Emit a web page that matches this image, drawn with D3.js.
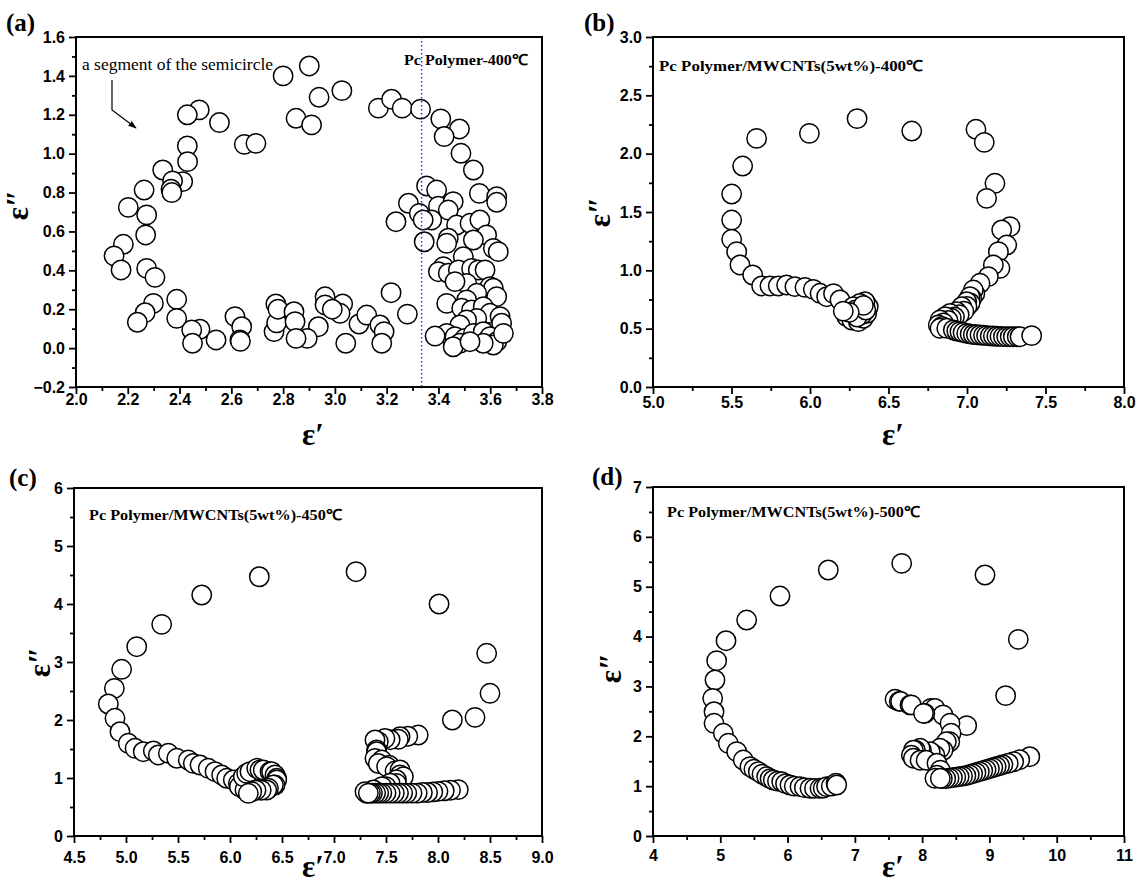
<!DOCTYPE html>
<html><head><meta charset="utf-8">
<script src="https://cdn.jsdelivr.net/npm/d3@7"></script>
<style>body{margin:0;background:#fff}svg{display:block}</style>
</head><body>
<svg id="chart" width="1137" height="883"></svg>
<script>
// ---------------- DATA (ε′, ε″) ----------------
const aPoints = [
[2.80,1.40],[2.476,1.225],[2.43,1.20],[2.554,1.16],[2.65,1.048],[2.695,1.053],[2.43,1.04],[2.431,0.959],[2.412,0.856],[2.335,0.916],[2.373,0.86],[2.367,0.817],[2.37,0.80],[2.263,0.813],[2.202,0.724],[2.273,0.685],[2.269,0.582],[2.183,0.534],[2.147,0.474],[2.174,0.402],[2.273,0.41],[2.305,0.364],[2.299,0.23],[2.267,0.182],[2.237,0.133],[2.389,0.251],[2.389,0.153],[2.479,0.097],[2.447,0.093],[2.45,0.025],[2.541,0.042],[2.614,0.162],[2.64,0.11],[2.633,0.042],[2.635,0.035],[2.772,0.227],[2.765,0.085],[2.775,0.13],[2.78,0.20],[2.842,0.187],[2.846,0.136],[2.85,1.182],[2.901,1.451],[2.939,1.29],[3.027,1.324],[2.91,1.148],[3.168,1.234],[3.219,1.28],[3.26,1.234],[3.331,1.229],[3.409,1.179],[3.481,1.127],[3.422,1.088],[3.487,1.002],[3.535,0.916],[3.558,0.796],[3.625,0.779],[3.625,0.75],[3.354,0.834],[3.393,0.813],[3.284,0.745],[3.326,0.693],[3.236,0.65],[3.345,0.547],[3.217,0.285],[3.28,0.175],
[2.962,0.264],[2.962,0.222],[3.03,0.227],[3.02,0.179],[2.99,0.2],[2.936,0.11],[2.893,0.05],[3.042,0.025],[3.093,0.124],[3.123,0.17],[3.174,0.119],[3.19,0.085],[3.181,0.025],[2.85,0.05],
[3.40,0.73],[3.457,0.753],[3.438,0.71],[3.374,0.659],[3.341,0.659],[3.47,0.633],[3.522,0.642],[3.56,0.659],[3.586,0.582],[3.438,0.565],[3.535,0.556],[3.612,0.513],[3.631,0.496],[3.496,0.47],[3.432,0.539],[3.419,0.419],[3.40,0.393],[3.438,0.385],[3.477,0.402],[3.528,0.41],[3.554,0.402],[3.58,0.402],[3.599,0.316],[3.612,0.308],[3.509,0.333],[3.464,0.342],[3.625,0.265],[3.548,0.282],[3.509,0.248],[3.432,0.23],[3.49,0.205],[3.528,0.196],[3.573,0.213],[3.599,0.179],[3.638,0.162],[3.644,0.128],[3.548,0.153],[3.509,0.145],[3.483,0.119],[3.432,0.076],[3.387,0.062],[3.464,0.059],[3.502,0.05],[3.483,0.025],[3.457,0.007],[3.535,0.076],[3.573,0.085],[3.599,0.059],[3.625,0.033],[3.612,0.016],[3.651,0.076],[3.573,0.025],[3.522,0.033]
];
const bPoints = [
[5.501,1.654],[5.571,1.894],[5.66,2.131],[5.996,2.174],[6.30,2.30],[6.648,2.194],[7.057,2.209],[7.11,2.097],[7.178,1.746],[7.125,1.617],
[5.501,1.431],[5.501,1.266],[5.533,1.16],[5.554,1.046],[5.635,0.96],[5.692,0.866],[5.745,0.866],[5.798,0.866],[5.851,0.874],[5.904,0.86],[5.968,0.854],[6.021,0.837],[6.064,0.803],[6.106,0.774],[6.15,0.80],[6.191,0.746],
[6.234,0.603],[6.266,0.574],[6.308,0.56],[6.34,0.589],[6.361,0.631],[6.371,0.688],[6.35,0.731],[6.318,0.717],[6.276,0.688],[6.29,0.66],[6.32,0.66],[6.33,0.62],[6.30,0.60],[6.355,0.66],[6.34,0.70],[6.25,0.64],[6.212,0.65],
[7.274,1.374],[7.221,1.346],[7.253,1.217],[7.20,1.16],[7.21,1.017],[7.168,1.046],[7.136,0.946],[7.083,0.889],[7.05,0.80],[7.04,0.831],[7.03,0.76],[7.019,0.774],[7.02,0.72],[6.998,0.731],[7.0,0.69],[6.966,0.688],[6.98,0.65],[6.934,0.645],[6.95,0.62],[6.892,0.631],[6.92,0.60],[6.90,0.59],[6.86,0.603],[6.88,0.57],[6.828,0.574],[6.85,0.55],[6.817,0.531],[6.84,0.52],[6.828,0.503],[6.871,0.503],
[6.913,0.489],[6.935,0.48],[6.955,0.474],[6.975,0.467],[6.998,0.46],[7.02,0.455],[7.04,0.45],[7.06,0.448],[7.083,0.446],[7.105,0.443],[7.125,0.44],[7.148,0.438],[7.168,0.437],[7.19,0.435],[7.21,0.434],[7.232,0.432],[7.253,0.431],[7.275,0.431],[7.295,0.431],[7.32,0.431],[7.338,0.431],[7.412,0.44]
];
const cPoints = [
[6.282,4.47],[5.728,4.155],[5.343,3.649],[5.103,3.264],[4.958,2.874],[4.888,2.546],[4.83,2.276],[4.894,2.029],[4.942,1.798],[5.022,1.598],[5.087,1.512],[5.166,1.453],[5.263,1.466],[5.311,1.397],[5.407,1.426],[5.488,1.34],[5.599,1.31],[5.647,1.253],[5.712,1.224],[5.791,1.167],[5.856,1.109],[5.92,1.052],[5.968,0.995],[6.032,0.966],[6.08,0.908],[6.09,0.85],[6.144,0.793],
[6.128,1.023],[6.16,1.08],[6.192,1.109],[6.257,1.167],[6.288,1.138],[6.32,1.138],[6.385,1.109],[6.40,1.109],[6.433,1.052],[6.449,0.995],[6.449,0.966],[6.433,0.879],[6.417,0.879],[6.37,0.822],[6.353,0.793],[6.30,0.79],[6.25,0.79],[6.209,0.764],[6.176,0.736],
[7.212,4.557],[8.01,4.0],[8.468,3.15],[8.50,2.46],[8.356,2.046],[8.138,2.0],[7.81,1.741],[7.71,1.72],[7.635,1.712],[7.619,1.667],[7.54,1.66],[7.49,1.684],[7.426,1.626],[7.394,1.655],[7.41,1.483],[7.41,1.453],[7.394,1.339],[7.46,1.31],[7.426,1.25],[7.53,1.22],[7.506,1.195],[7.587,1.12],[7.635,1.138],[7.635,1.052],[7.667,1.023],[7.60,0.97],[7.60,0.908],[7.54,0.91],[7.50,0.85],[7.46,0.85],[7.38,0.79],[7.378,0.793],[7.314,0.736],[7.298,0.764],
[8.195,0.80],[8.12,0.79],[8.06,0.78],[8.0,0.77],[7.95,0.76],[7.90,0.75],[7.85,0.75],[7.80,0.74],[7.75,0.74],[7.70,0.74],[7.66,0.74],[7.62,0.74],[7.58,0.74],[7.54,0.74],[7.50,0.74],[7.46,0.74],[7.43,0.74],[7.40,0.74],[7.37,0.74],[7.35,0.74],[7.33,0.74]
];
const dPoints = [
[6.605,5.335],[5.887,4.813],[5.392,4.332],[5.085,3.917],[4.946,3.516],[4.921,3.129],[4.887,2.761],[4.907,2.493],[4.907,2.26],[5.045,2.06],[5.119,1.859],[5.244,1.691],[5.342,1.524],[5.441,1.39],[5.50,1.34],[5.565,1.29],[5.62,1.24],[5.69,1.19],[5.74,1.15],[5.788,1.123],[5.85,1.10],[5.913,1.09],[5.97,1.05],[6.036,1.023],[6.10,1.0],[6.185,0.99],[6.25,0.97],[6.333,0.957],[6.40,0.955],[6.482,0.957],[6.53,0.96],[6.58,0.99],[6.65,1.0],[6.72,1.06],[6.73,1.023],
[7.696,5.469],[8.934,5.235],[9.429,3.944],[9.241,2.815],[8.662,2.213],
[7.62,2.73],[7.597,2.742],[7.66,2.70],[7.68,2.70],[7.82,2.63],[7.84,2.63],[8.13,2.56],[8.19,2.56],[8.31,2.43],[8.04,2.46],[8.02,2.46],[8.414,2.26],[8.43,2.06],[8.41,1.89],[8.36,1.89],[8.31,1.72],[8.265,1.759],[8.19,1.62],[8.12,1.69],
[7.99,1.72],[7.97,1.759],[7.90,1.72],[7.87,1.72],[7.84,1.62],[7.87,1.56],[7.97,1.52],[8.06,1.52],[8.22,1.46],[8.27,1.32],[8.22,1.22],[8.19,1.157],
[9.60,1.59],[9.45,1.53],[9.36,1.49],[9.28,1.46],[9.20,1.43],[9.15,1.41],[9.10,1.39],[9.05,1.37],[9.0,1.35],[8.95,1.33],[8.90,1.31],[8.85,1.29],[8.80,1.27],[8.75,1.25],[8.70,1.23],[8.65,1.21],[8.60,1.20],[8.55,1.19],[8.50,1.18],[8.45,1.17],[8.40,1.16],[8.35,1.15],[8.30,1.15],[8.27,1.157]
];

const aXTicks = [2.0,2.2,2.4,2.6,2.8,3.0,3.2,3.4,3.6,3.8];
const aYTicks = [-0.2,0.0,0.2,0.4,0.6,0.8,1.0,1.2,1.4,1.6];
const bXTicks = [5.0,5.5,6.0,6.5,7.0,7.5,8.0];
const bYTicks = [0.0,0.5,1.0,1.5,2.0,2.5,3.0];
const cXTicks = [4.5,5.0,5.5,6.0,6.5,7.0,7.5,8.0,8.5,9.0];
const cYTicks = [0,1,2,3,4,5,6];
const dXTicks = [4,5,6,7,8,9,10,11];
const dYTicks = [0,1,2,3,4,5,6,7];

const panelLabels = ["(a)","(b)","(c)","(d)"];
const panelNotes = ["Pc Polymer-400℃","Pc Polymer/MWCNTs(5wt%)-400℃","Pc Polymer/MWCNTs(5wt%)-450℃","Pc Polymer/MWCNTs(5wt%)-500℃"];
const segmentNote = "a segment of the semicircle";
const dashedLineX = 3.335;

// ---------------- LAYOUT ----------------
const panels = [
  {pts:aPoints, xt:aXTicks, yt:aYTicks, xMin:0.1, yMin:0.1, xf:".1f", yf:".1f",
   l:76,r:542,t:37,b:387, xLab:15, lab:[6,31], note:[404,65,124], xTitle:[313,445], yTitle:[17,205]},
  {pts:bPoints, xt:bXTicks, yt:bYTicks, xMin:0.25, yMin:0.25, xf:".1f", yf:".1f",
   l:653,r:1124,t:37,b:387, xLab:18, lab:[584,31], note:[659,71,264], xTitle:[893,445], yTitle:[599,212]},
  {pts:cPoints, xt:cXTicks, yt:cYTicks, xMin:0.25, yMin:0.5, xf:".1f", yf:"d",
   l:74,r:542,t:488,b:836, xLab:24, lab:[9,486], note:[89,520,253], xTitle:[313,877], yTitle:[39,662]},
  {pts:dPoints, xt:dXTicks, yt:dYTicks, xMin:0.5, yMin:0.5, xf:"d", yf:"d",
   l:653,r:1124,t:487,b:836, xLab:22, lab:[592,485], note:[667,517,253], xTitle:[893,877], yTitle:[610,668]}
];

const svg = d3.select("#chart");
const SANS = "'Liberation Sans', Arial, sans-serif";
const SERIF = "'Liberation Serif', 'Times New Roman', serif";

function minorTicks(domain, step, majors){
  const n = Math.round((domain[1]-domain[0])/step);
  return d3.range(n+1).map(i => +(domain[0]+i*step).toFixed(4))
    .filter(v => !majors.some(m => Math.abs(m-v) < 1e-6));
}

panels.forEach((p, i) => {
  const xd = [p.xt[0], p.xt[p.xt.length-1]];
  const yd = [p.yt[0], p.yt[p.yt.length-1]];
  const x = d3.scaleLinear().domain(xd).range([p.l, p.r]);
  const y = d3.scaleLinear().domain(yd).range([p.b, p.t]);
  const g = svg.append("g");

  const xAxis = g.append("g").attr("transform", `translate(0,${p.b})`)
    .call(d3.axisBottom(x).tickValues(p.xt).tickFormat(d3.format(p.xf)).tickSize(7).tickPadding(p.xLab-15));
  const xMinor = g.append("g").attr("transform", `translate(0,${p.b})`)
    .call(d3.axisBottom(x).tickValues(minorTicks(xd, p.xMin, p.xt)).tickFormat("").tickSize(4));
  const yAxis = g.append("g").attr("transform", `translate(${p.l},0)`)
    .call(d3.axisLeft(y).tickValues(p.yt).tickFormat(d3.format(p.yf)).tickSize(7).tickPadding(4));
  const yMinor = g.append("g").attr("transform", `translate(${p.l},0)`)
    .call(d3.axisLeft(y).tickValues(minorTicks(yd, p.yMin, p.yt)).tickFormat("").tickSize(4));
  [xAxis, xMinor, yAxis, yMinor].forEach(a => {
    a.select(".domain").remove();
    a.selectAll(".tick line").attr("stroke", "#000").attr("stroke-width", 1.8);
    a.selectAll("text").attr("font-family", SANS).attr("font-weight", "bold")
      .attr("font-size", 16).attr("fill", "#000");
  });

  g.append("rect").attr("x", p.l).attr("y", p.t).attr("width", p.r-p.l).attr("height", p.b-p.t)
    .attr("fill", "none").attr("stroke", "#000").attr("stroke-width", 2);

  g.append("g").selectAll("circle").data(p.pts).join("circle")
    .attr("cx", d => x(d[0])).attr("cy", d => y(d[1])).attr("r", 9.7)
    .attr("fill", "#fff").attr("stroke", "#000").attr("stroke-width", 1.5);

  if (i === 0) {
    g.append("line").attr("x1", x(dashedLineX)).attr("x2", x(dashedLineX))
      .attr("y1", p.t).attr("y2", p.b)
      .attr("stroke", "#2a2ae6").attr("stroke-width", 1.5).attr("stroke-dasharray", "1.5,2.5");
    g.append("text").attr("x", 82).attr("y", 70).attr("font-family", SERIF).attr("font-size", 16)
      .attr("textLength", 191).attr("lengthAdjust", "spacingAndGlyphs").text(segmentNote);
    const defs = svg.append("defs");
    defs.append("marker").attr("id", "arr").attr("viewBox", "0 0 10 10").attr("refX", 9).attr("refY", 5)
      .attr("markerWidth", 7).attr("markerHeight", 7).attr("orient", "auto")
      .append("path").attr("d", "M0,1.5 L10,5 L0,8.5 Z").attr("fill", "#000");
    g.append("path").attr("d", "M112,80 L112,110 L136,128").attr("fill", "none")
      .attr("stroke", "#000").attr("stroke-width", 1.2).attr("marker-end", "url(#arr)");
  }

  g.append("text").attr("x", p.note[0]).attr("y", p.note[1]).attr("font-family", SERIF)
    .attr("font-weight", "bold").attr("font-size", 15)
    .attr("textLength", p.note[2]).attr("lengthAdjust", "spacingAndGlyphs").text(panelNotes[i]);

  g.append("text").attr("x", p.lab[0]).attr("y", p.lab[1]).attr("font-family", SERIF)
    .attr("font-weight", "bold").attr("font-size", 25).text(panelLabels[i]);

  g.append("text").attr("x", p.xTitle[0]).attr("y", p.xTitle[1]).attr("text-anchor", "middle")
    .attr("font-family", SERIF).attr("font-weight", "bold").attr("font-size", 31).text("ε′");
  g.append("text").attr("transform", `translate(${p.yTitle[0]},${p.yTitle[1]}) rotate(-90)`)
    .attr("text-anchor", "middle").attr("dominant-baseline", "central")
    .attr("font-family", SERIF).attr("font-weight", "bold").attr("font-size", 31).text("ε″");
});
</script>
</body></html>
